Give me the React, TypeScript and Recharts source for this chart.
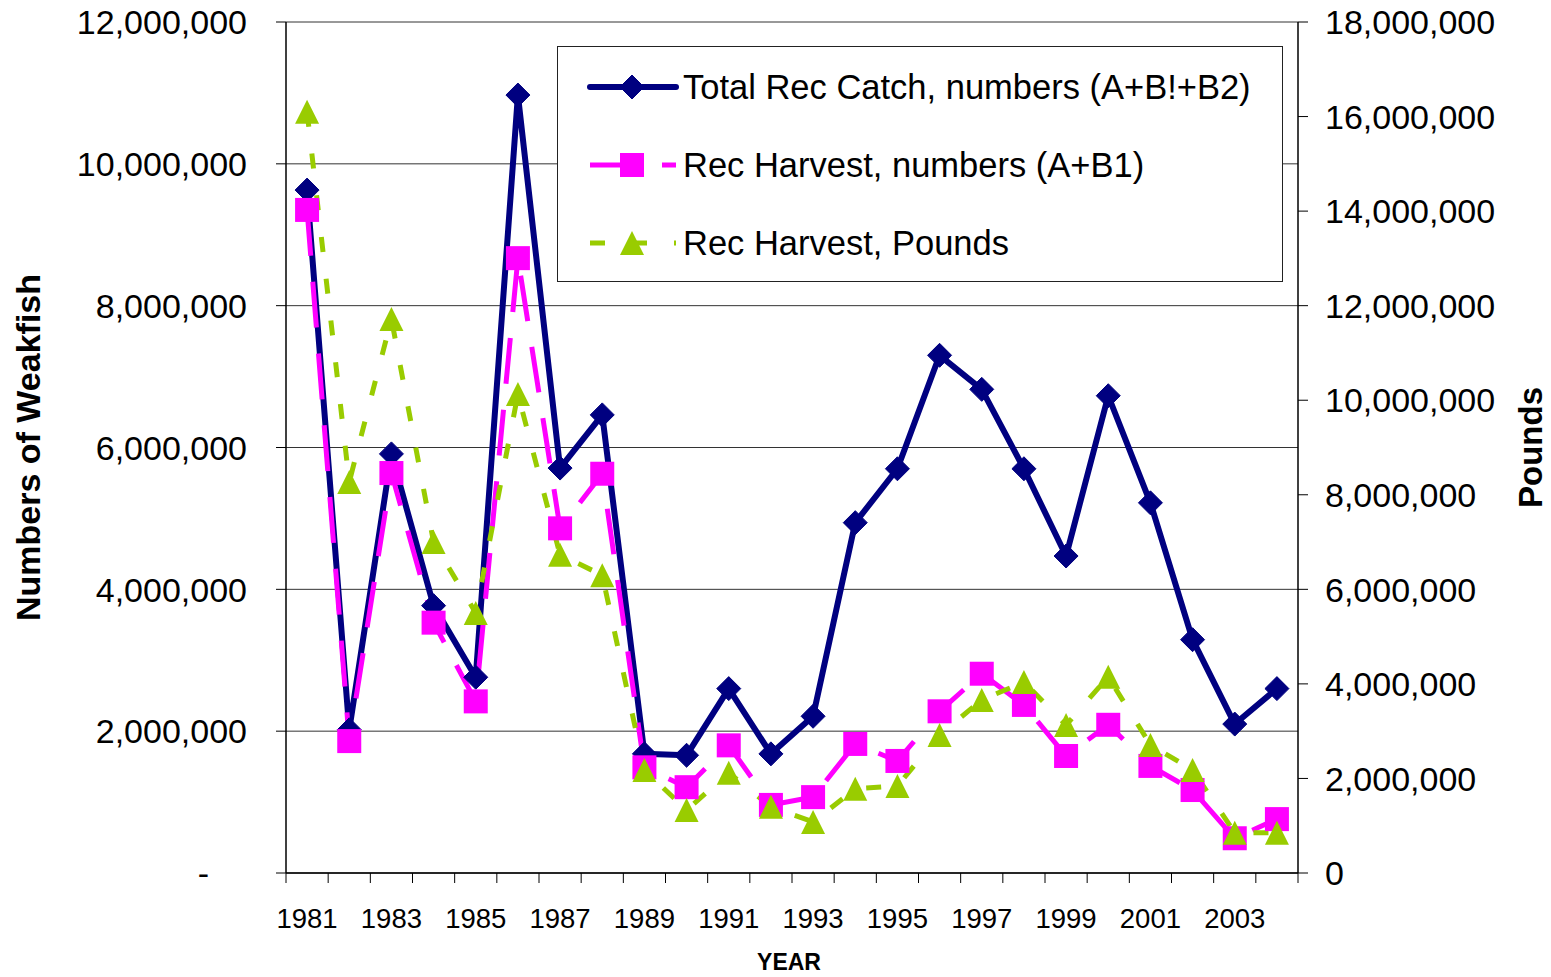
import React from 'react';
import { LineChart, Line, XAxis, YAxis, CartesianGrid, Legend } from 'recharts';

const years = [
  '1981', '1982', '1983', '1984', '1985', '1986', '1987', '1988', '1989', '1990', '1991', '1992',
  '1993', '1994', '1995', '1996', '1997', '1998', '1999', '2000', '2001', '2002', '2003', '2004',
];

// Total Rec Catch, numbers (A+B1+B2) - left axis
const totalCatch = [
  9630000, 2020000, 5910000, 3770000, 2760000, 10970000, 5710000, 6460000, 1680000, 1660000, 2600000, 1680000,
  2210000, 4940000, 5700000, 7300000, 6820000, 5700000, 4470000, 6730000, 5220000, 3290000, 2100000, 2600000,
];

// Rec Harvest, numbers (A+B1) - left axis
const harvestNumbers = [
  9350000, 1860000, 5640000, 3530000, 2420000, 8670000, 4860000, 5630000, 1490000, 1210000, 1800000, 960000,
  1070000, 1820000, 1580000, 2280000, 2810000, 2370000, 1650000, 2090000, 1510000, 1170000, 490000, 760000,
];

// Rec Harvest, Pounds - right axis
const harvestPounds = [
  16100000, 8270000, 11720000, 7000000, 5500000, 10130000, 6730000, 6300000, 2180000, 1330000, 2120000, 1400000,
  1080000, 1780000, 1840000, 2920000, 3660000, 4040000, 3130000, 4150000, 2710000, 2180000, 850000, 850000,
];

const leftTicks = [0, 2000000, 4000000, 6000000, 8000000, 10000000, 12000000];
const rightTicks = [0, 2000000, 4000000, 6000000, 8000000, 10000000, 12000000, 14000000, 16000000, 18000000];

const data = years.map((year, i) => ({
  year,
  total: totalCatch[i],
  harvest: harvestNumbers[i],
  pounds: harvestPounds[i],
}));

const NAVY = '#000080';
const MAGENTA = '#FF00FF';
const GREEN = '#99CC00';
const FONT = 'Arial, "Liberation Sans", Helvetica, sans-serif';
const PINK_DASH = '46 26';
const GREEN_DASH = '15 27';

const fmt = (v: number) => v.toLocaleString('en-US');

const diamond = (cx: number, cy: number, color: string, key?: string) => (
  <polygon key={key} points={`${cx},${cy - 12} ${cx + 12},${cy} ${cx},${cy + 12} ${cx - 12},${cy}`} fill={color} stroke={color} />
);
const square = (cx: number, cy: number, color: string, key?: string) => (
  <rect key={key} x={cx - 12} y={cy - 12} width={24} height={24} fill={color} />
);
const triangle = (cx: number, cy: number, color: string, key?: string) => (
  <polygon key={key} points={`${cx},${cy - 12} ${cx + 12},${cy + 12} ${cx - 12},${cy + 12}`} fill={color} />
);

const LeftTick = ({ x, y, payload }: any) => (
  <text
    x={payload.value === 0 ? x - 38 : x}
    y={y}
    dy="0.36em"
    textAnchor="end"
    fontSize={34}
    fontFamily={FONT}
    fill="#000"
  >
    {payload.value === 0 ? '-' : fmt(payload.value)}
  </text>
);

const RightTick = ({ x, y, payload }: any) => (
  <text x={x} y={y} dy="0.36em" textAnchor="start" fontSize={34} fontFamily={FONT} fill="#000">
    {fmt(payload.value)}
  </text>
);

// year labels on every other category, tick marks between categories (Excel style)
const YearTick = ({ x, y, payload, index }: any) => {
  const half = payload.offset || 0;
  const last = index === years.length - 1;
  return (
    <g>
      <line x1={x - half} x2={x - half} y1={y} y2={y + 10} stroke="#000" strokeWidth={1} />
      {last && <line x1={x + half} x2={x + half} y1={y} y2={y + 10} stroke="#000" strokeWidth={1} />}
      {index % 2 === 0 && (
        <text x={x} y={y} dy={55} textAnchor="middle" fontSize={27.5} fontFamily={FONT} fill="#000">
          {payload.value}
        </text>
      )}
    </g>
  );
};

const legendItems = [
  { name: 'Total Rec Catch, numbers (A+B!+B2)', color: NAVY, dash: undefined, marker: diamond },
  { name: 'Rec Harvest, numbers (A+B1)', color: MAGENTA, dash: PINK_DASH, marker: square },
  { name: 'Rec Harvest, Pounds', color: GREEN, dash: GREEN_DASH, marker: triangle },
];

const LegendBox = () => (
  <svg width={726} height={236} style={{ display: 'block' }}>
    <rect x={0.5} y={0.5} width={725} height={235} fill="#fff" stroke="#222" strokeWidth={1} />
    {legendItems.map((it, i) => {
      const cy = 41 + i * 78;
      return (
        <g key={it.name}>
          <line
            x1={33}
            x2={119}
            y1={cy}
            y2={cy}
            stroke={it.color}
            strokeWidth={it.dash ? 5 : 6}
            strokeDasharray={it.dash}
            strokeLinecap={it.dash ? 'butt' : 'round'}
          />
          {it.marker(75, cy, it.color)}
          <text x={126} y={cy} dy="0.36em" fontSize={34.5} fontFamily={FONT} fill="#000">
            {it.name}
          </text>
        </g>
      );
    })}
  </svg>
);

export default function App() {
  return (
    <div style={{ position: 'absolute', left: 0, top: 0, width: 1551, height: 977, background: '#fff' }}>
      <LineChart width={1551} height={977} data={data} margin={{ top: 22, right: 0, bottom: 0, left: 0 }}>
        <CartesianGrid yAxisId="left" xAxisId="cat" vertical={false} stroke="#333" strokeWidth={1} />
        <XAxis
          xAxisId="cat"
          dataKey="year"
          scale="band"
          interval={0}
          tick={<YearTick />}
          tickLine={false}
          tickSize={0}
          tickMargin={0}
          axisLine={{ stroke: '#000', strokeWidth: 1.5 }}
          height={104}
          label={({ viewBox }: any) => (
            <text
              x={viewBox.x + viewBox.width / 2 - 3}
              y={962}
              dy="0.36em"
              textAnchor="middle"
              fontSize={23}
              fontWeight="bold"
              fontFamily={FONT}
              fill="#000"
            >
              YEAR
            </text>
          )}
        />
        <YAxis
          yAxisId="left"
          orientation="left"
          width={286}
          domain={[0, 12000000]}
          ticks={leftTicks}
          tick={<LeftTick />}
          tickSize={10}
          tickMargin={29}
          tickLine={{ stroke: '#000' }}
          axisLine={{ stroke: '#000', strokeWidth: 1.5 }}
          label={({ viewBox }: any) => (
            <text
              x={28}
              y={viewBox.y + viewBox.height / 2}
              transform={`rotate(-90, 28, ${viewBox.y + viewBox.height / 2})`}
              dy="0.36em"
              textAnchor="middle"
              fontSize={34}
              fontWeight="bold"
              fontFamily={FONT}
              fill="#000"
            >
              Numbers of Weakfish
            </text>
          )}
        />
        <YAxis
          yAxisId="right"
          orientation="right"
          width={253}
          domain={[0, 18000000]}
          ticks={rightTicks}
          tick={<RightTick />}
          tickSize={10}
          tickMargin={17}
          tickLine={{ stroke: '#000' }}
          axisLine={{ stroke: '#000', strokeWidth: 1.5 }}
          label={({ viewBox }: any) => (
            <text
              x={viewBox.x + 232}
              y={viewBox.y + viewBox.height / 2}
              transform={`rotate(-90, ${viewBox.x + 232}, ${viewBox.y + viewBox.height / 2})`}
              dy="0.36em"
              textAnchor="middle"
              fontSize={33}
              fontWeight="bold"
              fontFamily={FONT}
              fill="#000"
            >
              Pounds
            </text>
          )}
        />
        <Legend
          layout="vertical"
          align="center"
          verticalAlign="middle"
          content={<LegendBox />}
          wrapperStyle={{ left: 557, top: 46, width: 726, height: 236 }}
        />
        <Line
          xAxisId="cat"
          yAxisId="left"
          dataKey="total"
          name="Total Rec Catch, numbers (A+B!+B2)"
          stroke={NAVY}
          strokeWidth={6}
          strokeLinejoin="round"
          dot={(p: any) => diamond(p.cx, p.cy, NAVY, `d${p.index}`)}
          activeDot={false}
          isAnimationActive={false}
        />
        <Line
          xAxisId="cat"
          yAxisId="left"
          dataKey="harvest"
          name="Rec Harvest, numbers (A+B1)"
          stroke={MAGENTA}
          strokeWidth={5}
          strokeDasharray={PINK_DASH}
          dot={(p: any) => square(p.cx, p.cy, MAGENTA, `s${p.index}`)}
          activeDot={false}
          isAnimationActive={false}
        />
        <Line
          xAxisId="cat"
          yAxisId="right"
          dataKey="pounds"
          name="Rec Harvest, Pounds"
          stroke={GREEN}
          strokeWidth={5}
          strokeDasharray={GREEN_DASH}
          dot={(p: any) => triangle(p.cx, p.cy, GREEN, `t${p.index}`)}
          activeDot={false}
          isAnimationActive={false}
        />
      </LineChart>
    </div>
  );
}
